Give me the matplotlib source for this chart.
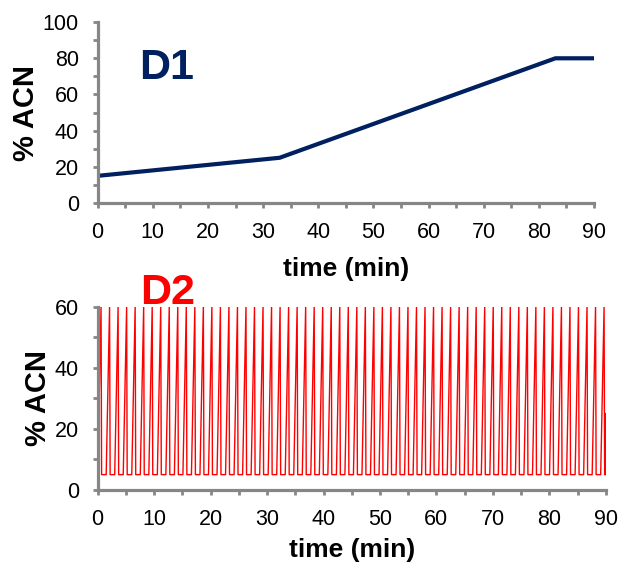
import numpy as np
import matplotlib.pyplot as plt
from matplotlib.ticker import MultipleLocator

plt.rcParams['font.family'] = ['Liberation Sans', 'DejaVu Sans']

# D1 gradient (time in min, % ACN)
d1_time = [0, 33, 83, 90]
d1_pct = [15, 25, 80, 80]

# D2: one repeated cycle of the second dimension gradient
d2_cycle_time = [0.0, 0.6, 0.7, 1.51]
d2_cycle_pct = [5, 60, 5, 5]
d2_n_cycles = 60
d2_tail_time = [89.95, 90.0]
d2_tail_pct = [5, 25]

t2 = np.concatenate([np.array(d2_cycle_time[:-1]) + k * d2_cycle_time[-1] for k in range(d2_n_cycles)])
p2 = np.tile(d2_cycle_pct[:-1], d2_n_cycles)
t2 = np.concatenate([t2, d2_tail_time])
p2 = np.concatenate([p2, d2_tail_pct])

gray = '#868686'

fig = plt.figure(figsize=(6.22, 5.67), dpi=100)
ax1 = fig.add_axes([0.157, 0.642, 0.798, 0.319])
ax2 = fig.add_axes([0.157, 0.136, 0.817, 0.323])


def style(ax, ymax, ymaj, xpad):
    ax.set_xlim(0, 90)
    ax.set_ylim(0, ymax)
    ax.xaxis.set_major_locator(MultipleLocator(10))
    ax.xaxis.set_minor_locator(MultipleLocator(5))
    ax.yaxis.set_major_locator(MultipleLocator(ymaj))
    ax.yaxis.set_minor_locator(MultipleLocator(ymaj / 2))
    for s in ['top', 'right']:
        ax.spines[s].set_visible(False)
    for s in ['left', 'bottom']:
        ax.spines[s].set_color(gray)
        ax.spines[s].set_linewidth(2.3)
    ax.tick_params(which='both', direction='out', color=gray, width=2, length=3.6)
    ax.tick_params(axis='x', which='both', labelsize=15.5, pad=10, labelcolor='black')
    ax.tick_params(axis='y', which='both', labelsize=15.5, pad=10, labelcolor='black')
    ax.set_xlabel('time (min)', fontsize=19, fontweight='bold', labelpad=xpad)
    ax.set_ylabel('% ACN', fontsize=21, fontweight='bold', labelpad=2)


ax1.plot(d1_time, d1_pct, color='#002060', lw=3, solid_capstyle='butt', clip_on=False)
style(ax1, 100, 20, 10)
ax1.text(0.083, 0.745, 'D1', transform=ax1.transAxes, fontsize=31, fontweight='bold',
         color='#002060', va='center', ha='left')

ax2.plot(t2, p2, color='#ff0000', lw=1.0)
style(ax2, 60, 20, 6)
ax2.text(0.083, 1.075, 'D2', transform=ax2.transAxes, fontsize=31, fontweight='bold',
         color='#ff0000', va='center', ha='left')

fig.savefig('out.png', dpi=100)
